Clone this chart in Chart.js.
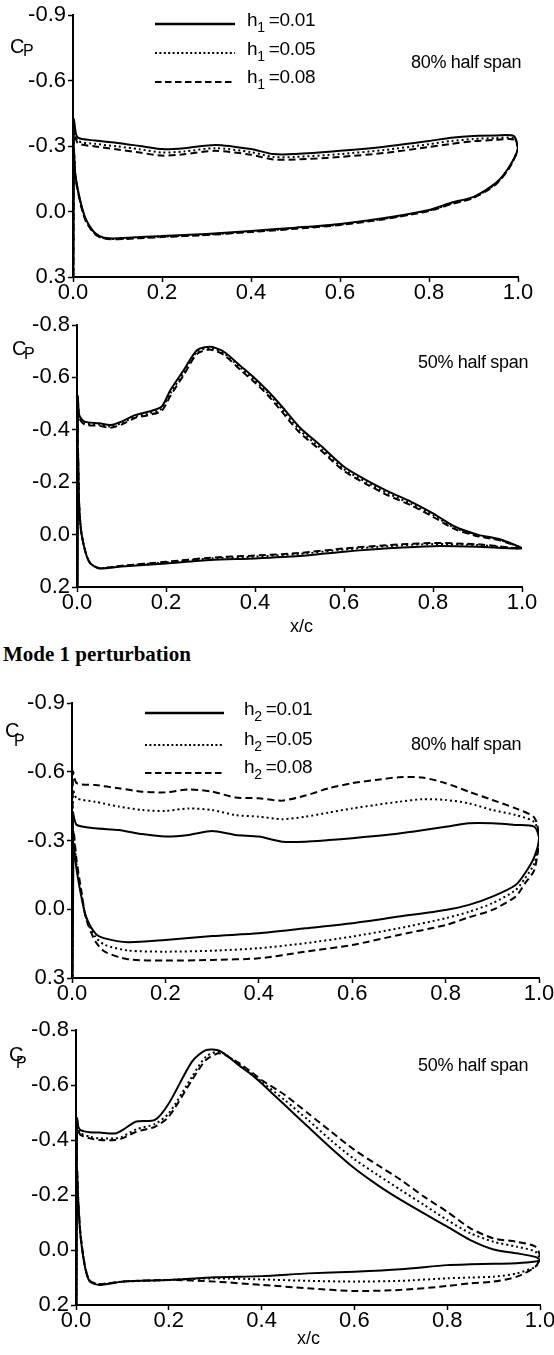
<!DOCTYPE html>
<html>
<head>
<meta charset="utf-8">
<script src="https://cdn.jsdelivr.net/npm/chart.js@4.4.1/dist/chart.umd.min.js"></script>
<style>
  html, body { margin: 0; padding: 0; background: #fff; overflow: hidden; }
  #page { position: relative; width: 554px; height: 1355px; overflow: hidden; color: #000;
          font-family: "Liberation Sans", Arial, Helvetica, sans-serif; }
  canvas { position: absolute; left: 0; }
  .t { position: absolute; white-space: nowrap; line-height: 1; }
  .lg { font-size: 19px; letter-spacing: -0.3px; }
  .lg span { font-size: 14px; position: relative; top: 6px; margin-right: 4px; }
  .span { font-size: 18px; letter-spacing: -0.3px; }
  .c { font-size: 20px; }
  .p { font-size: 16px; }
  .xc { font-size: 18px; }
  .mode { font-family: "Liberation Serif", "Times New Roman", serif; font-weight: bold; font-size: 21px; }
</style>
</head>
<body>
<div id="page">
  <canvas id="c1" width="600" height="300" style="top:0px"></canvas>
  <canvas id="c2" width="600" height="320" style="top:300px"></canvas>
  <canvas id="c3" width="600" height="330" style="top:680px"></canvas>
  <canvas id="c4" width="600" height="330" style="top:1010px"></canvas>

  <div class="t lg" style="left:247px;top:10px">h<span>1</span>=0.01</div>
  <div class="t lg" style="left:247px;top:39px">h<span>1</span>=0.05</div>
  <div class="t lg" style="left:247px;top:67px">h<span>1</span>=0.08</div>
  <div class="t span" style="left:411px;top:53px">80% half span</div>
  <div class="t c" style="left:10px;top:36px">C</div>
  <div class="t p" style="left:23px;top:43px">P</div>

  <div class="t span" style="left:418px;top:353px">50% half span</div>
  <div class="t c" style="left:12px;top:338px">C</div>
  <div class="t p" style="left:24px;top:346px">P</div>
  <div class="t xc" style="left:290px;top:617px">x/c</div>

  <div class="t mode" style="left:3px;top:644px">Mode 1 perturbation</div>

  <div class="t lg" style="left:244px;top:699px">h<span>2</span>=0.01</div>
  <div class="t lg" style="left:244px;top:729px">h<span>2</span>=0.05</div>
  <div class="t lg" style="left:244px;top:757px">h<span>2</span>=0.08</div>
  <div class="t span" style="left:411px;top:735px">80% half span</div>
  <div class="t c" style="left:5px;top:720px">C</div>
  <div class="t p" style="left:14px;top:733px">P</div>

  <div class="t span" style="left:418px;top:1056px">50% half span</div>
  <div class="t c" style="left:9px;top:1044px">C</div>
  <div class="t p" style="left:16px;top:1055px">P</div>
  <div class="t xc" style="left:297px;top:1329px">x/c</div>
</div>
<script>
// leading-edge stagnation value, the curves close through it at x/c = 0
const stagnationCp = 1.0

// mode 1 (h1), 80% half span
const a80UpX = [0.002, 0.01, 0.05, 0.1, 0.15, 0.2, 0.25, 0.32, 0.4, 0.45, 0.5, 0.6, 0.7, 0.8, 0.85, 0.9, 0.95, 0.99, 1.0]
const a80Up01 = [-0.42, -0.34, -0.325, -0.314, -0.3, -0.286, -0.29, -0.305, -0.286, -0.263, -0.263, -0.278, -0.297, -0.323, -0.338, -0.346, -0.348, -0.346, -0.29]
const a80Up05 = [-0.41, -0.325, -0.31, -0.298, -0.285, -0.27, -0.275, -0.29, -0.272, -0.25, -0.25, -0.263, -0.282, -0.308, -0.323, -0.332, -0.336, -0.336, -0.29]
const a80Up08 = [-0.4, -0.315, -0.298, -0.284, -0.27, -0.256, -0.262, -0.278, -0.26, -0.238, -0.238, -0.25, -0.268, -0.295, -0.31, -0.322, -0.328, -0.33, -0.29]
const a80LoX = [0.98, 0.95, 0.9, 0.85, 0.8, 0.7, 0.6, 0.5, 0.4, 0.3, 0.2, 0.1, 0.07, 0.05, 0.03, 0.02, 0.01, 0.005, 0.002]
const a80Lo01 = [-0.204, -0.13, -0.067, -0.04, -0.007, 0.03, 0.057, 0.074, 0.089, 0.103, 0.112, 0.123, 0.12, 0.1, 0.04, -0.02, -0.11, -0.176, -0.28]
const a80Lo05 = [-0.2, -0.127, -0.064, -0.036, -0.004, 0.033, 0.06, 0.077, 0.092, 0.106, 0.115, 0.126, 0.123, 0.103, 0.045, -0.015, -0.105, -0.17, -0.275]
const a80Lo08 = [-0.198, -0.124, -0.062, -0.034, -0.002, 0.035, 0.062, 0.079, 0.094, 0.108, 0.117, 0.127, 0.124, 0.105, 0.05, -0.01, -0.1, -0.165, -0.27]

// mode 1 (h1), 50% half span
const a50UpX = [0.002, 0.005, 0.017, 0.05, 0.075, 0.1, 0.13, 0.16, 0.19, 0.21, 0.24, 0.27, 0.3, 0.33, 0.37, 0.4, 0.43, 0.46, 0.5, 0.55, 0.6, 0.65, 0.7, 0.75, 0.8, 0.85, 0.9, 0.95, 1.0]
const a50Up01 = [-0.526, -0.456, -0.431, -0.425, -0.418, -0.431, -0.456, -0.469, -0.488, -0.552, -0.628, -0.705, -0.717, -0.698, -0.64, -0.596, -0.546, -0.49, -0.41, -0.336, -0.259, -0.208, -0.164, -0.126, -0.081, -0.03, 0.0, 0.018, 0.052]
const a50Up05 = [-0.52, -0.45, -0.425, -0.42, -0.413, -0.425, -0.45, -0.462, -0.48, -0.54, -0.618, -0.698, -0.712, -0.692, -0.632, -0.588, -0.538, -0.48, -0.4, -0.326, -0.25, -0.2, -0.156, -0.118, -0.074, -0.025, 0.003, 0.02, 0.052]
const a50Up08 = [-0.515, -0.445, -0.42, -0.415, -0.408, -0.42, -0.445, -0.456, -0.472, -0.53, -0.61, -0.69, -0.706, -0.686, -0.624, -0.58, -0.53, -0.47, -0.39, -0.318, -0.243, -0.193, -0.149, -0.112, -0.068, -0.02, 0.006, 0.022, 0.052]
const a50LoX = [0.9, 0.8, 0.7, 0.6, 0.5, 0.4, 0.3, 0.2, 0.1, 0.05, 0.03, 0.02, 0.01, 0.005, 0.002]
const a50Lo01 = [0.046, 0.044, 0.052, 0.065, 0.082, 0.091, 0.097, 0.11, 0.122, 0.129, 0.11, 0.072, -0.005, -0.106, -0.323]
const a50Lo05 = [0.04, 0.036, 0.044, 0.057, 0.074, 0.084, 0.091, 0.106, 0.12, 0.128, 0.11, 0.072, -0.005, -0.106, -0.323]
const a50Lo08 = [0.037, 0.032, 0.04, 0.053, 0.07, 0.08, 0.088, 0.104, 0.119, 0.128, 0.11, 0.072, -0.005, -0.106, -0.323]

// mode 2 (h2), 80% half span
const b80UpX = [0.002, 0.01, 0.05, 0.1, 0.15, 0.2, 0.25, 0.3, 0.35, 0.4, 0.45, 0.5, 0.55, 0.6, 0.65, 0.7, 0.75, 0.8, 0.85, 0.9, 0.95, 0.99, 1.0]
const b80Up01 = [-0.42, -0.368, -0.353, -0.346, -0.328, -0.317, -0.324, -0.341, -0.324, -0.317, -0.295, -0.295, -0.302, -0.31, -0.32, -0.331, -0.345, -0.36, -0.375, -0.375, -0.368, -0.36, -0.31]
const b80Up05 = [-0.52, -0.484, -0.469, -0.448, -0.433, -0.429, -0.44, -0.433, -0.411, -0.404, -0.393, -0.404, -0.422, -0.44, -0.455, -0.469, -0.48, -0.477, -0.462, -0.433, -0.411, -0.38, -0.31]
const b80Up08 = [-0.6, -0.55, -0.542, -0.528, -0.513, -0.51, -0.523, -0.513, -0.488, -0.484, -0.474, -0.496, -0.528, -0.55, -0.564, -0.576, -0.575, -0.55, -0.513, -0.477, -0.44, -0.4, -0.31]
const b80LoX = [0.99, 0.97, 0.95, 0.9, 0.85, 0.8, 0.7, 0.6, 0.5, 0.4, 0.3, 0.2, 0.12, 0.07, 0.05, 0.03, 0.02, 0.01, 0.003]
const b80Lo01 = [-0.229, -0.157, -0.106, -0.055, -0.019, 0.003, 0.032, 0.061, 0.083, 0.105, 0.117, 0.134, 0.144, 0.127, 0.105, 0.032, -0.055, -0.171, -0.273]
const b80Lo05 = [-0.2, -0.135, -0.084, -0.026, 0.011, 0.039, 0.083, 0.119, 0.148, 0.17, 0.181, 0.185, 0.18, 0.155, 0.12, 0.035, -0.07, -0.19, -0.31]
const b80Lo08 = [-0.171, -0.113, -0.055, 0.003, 0.035, 0.069, 0.112, 0.156, 0.185, 0.214, 0.221, 0.224, 0.218, 0.185, 0.14, 0.04, -0.08, -0.21, -0.34]

// mode 2 (h2), 50% half span
const b50UpX = [0.002, 0.005, 0.01, 0.03, 0.05, 0.085, 0.1, 0.13, 0.17, 0.2, 0.25, 0.28, 0.31, 0.35, 0.38, 0.4, 0.45, 0.5, 0.55, 0.6, 0.65, 0.7, 0.75, 0.8, 0.85, 0.9, 0.95, 0.99, 1.0]
const b50Up01 = [-0.479, -0.448, -0.436, -0.428, -0.427, -0.424, -0.436, -0.467, -0.473, -0.533, -0.685, -0.727, -0.724, -0.673, -0.636, -0.606, -0.527, -0.448, -0.37, -0.297, -0.236, -0.182, -0.133, -0.085, -0.036, -0.002, 0.012, 0.025, 0.036]
const b50Up05 = [-0.48, -0.44, -0.424, -0.412, -0.406, -0.406, -0.412, -0.439, -0.458, -0.497, -0.63, -0.703, -0.721, -0.677, -0.64, -0.612, -0.545, -0.473, -0.398, -0.33, -0.273, -0.218, -0.164, -0.109, -0.061, -0.03, -0.012, 0.006, 0.036]
const b50Up08 = [-0.473, -0.435, -0.418, -0.406, -0.4, -0.4, -0.406, -0.43, -0.448, -0.485, -0.618, -0.691, -0.715, -0.681, -0.645, -0.618, -0.564, -0.497, -0.43, -0.364, -0.309, -0.255, -0.194, -0.139, -0.079, -0.042, -0.03, -0.012, 0.024]
const b50LoX = [0.99, 0.95, 0.9, 0.85, 0.8, 0.7, 0.6, 0.5, 0.4, 0.3, 0.2, 0.1, 0.05, 0.03, 0.02, 0.01, 0.005, 0.002]
const b50Lo01 = [0.042, 0.048, 0.05, 0.052, 0.055, 0.07, 0.079, 0.085, 0.095, 0.099, 0.109, 0.115, 0.127, 0.115, 0.067, -0.048, -0.17, -0.291]
const b50Lo05 = [0.061, 0.085, 0.097, 0.1, 0.103, 0.112, 0.115, 0.112, 0.107, 0.103, 0.109, 0.115, 0.124, 0.113, 0.065, -0.05, -0.172, -0.293]
const b50Lo08 = [0.061, 0.097, 0.115, 0.121, 0.131, 0.145, 0.149, 0.139, 0.127, 0.115, 0.109, 0.115, 0.124, 0.112, 0.064, -0.052, -0.174, -0.295]

const xTicks = [0, 0.2, 0.4, 0.6, 0.8, 1.0]

const lineStyles = [
    {borderDash: [], borderWidth: 2},
    {borderDash: [2, 3], borderWidth: 2},
    {borderDash: [7, 4], borderWidth: 2},
]
const legendStyles = [
    {dash: [], width: 2.5},
    {dash: [2, 2.4], width: 2},
    {dash: [6.5, 3.5], width: 2.2},
]

const loop = (upX, up, loX, lo) => [
    {x: 0, y: stagnationCp},
    ...upX.map((x, i) => ({x, y: up[i]})),
    ...loX.map((x, i) => ({x, y: lo[i]})),
    {x: 0, y: stagnationCp},
]

const legendLines = {
    id: 'legendLines',
    afterDraw(chart, args, opts) {
        if (!opts.rows) return
        const {ctx} = chart
        ctx.save()
        ctx.strokeStyle = '#000'
        ctx.lineCap = 'butt'
        opts.rows.forEach((y, i) => {
            ctx.lineWidth = legendStyles[i].width
            ctx.setLineDash(legendStyles[i].dash)
            ctx.beginPath()
            ctx.moveTo(opts.x0, y)
            ctx.lineTo(opts.x1, y)
            ctx.stroke()
        })
        ctx.restore()
    },
}

const fmt = v => Math.abs(v) < 1e-9 ? '0.0' : Number(v).toFixed(1)
const tickFont = {family: '"Liberation Sans", Arial, sans-serif', size: 22, lineHeight: 1}

// canvases are 600 wide so the last x label can run past the page edge like the original
function makePanel(id, canvasTop, canvasHeight, area, yMin, yMax, yStep, series, legend) {
    return new Chart(document.getElementById(id), {
        type: 'scatter',
        data: {
            datasets: series.map((pts, i) => ({
                data: pts,
                showLine: true,
                borderColor: '#000',
                backgroundColor: '#000',
                pointRadius: 0,
                tension: 0.25,
                fill: false,
                ...lineStyles[i],
            })),
        },
        options: {
            responsive: false,
            animation: false,
            devicePixelRatio: 1,
            layout: {padding: {top: area.top - canvasTop, right: 600 - area.right, left: 0, bottom: 0}},
            plugins: {
                legend: {display: false},
                tooltip: {enabled: false},
                legendLines: legend || {},
            },
            scales: {
                x: {
                    type: 'linear',
                    min: 0,
                    max: 1,
                    afterBuildTicks: axis => { axis.ticks = xTicks.map(value => ({value})) },
                    afterFit: axis => { axis.height = canvasTop + canvasHeight - area.bottom },
                    ticks: {callback: fmt, color: '#000', font: tickFont, padding: 0, maxRotation: 0},
                    grid: {drawOnChartArea: false, drawTicks: true, tickLength: 5, tickColor: '#000', tickWidth: 1.5},
                    border: {display: true, color: '#000', width: 2},
                },
                y: {
                    type: 'linear',
                    reverse: true,
                    min: yMin,
                    max: yMax,
                    ticks: {stepSize: yStep, callback: fmt, color: '#000', font: tickFont, padding: 2},
                    afterFit: axis => { axis.width = area.left },
                    grid: {drawOnChartArea: false, drawTicks: true, tickLength: 5, tickColor: '#000', tickWidth: 1.5},
                    border: {display: true, color: '#000', width: 2},
                },
            },
        },
        plugins: [legendLines],
    })
}

makePanel('c1', 0, 300, {left: 73, right: 518, top: 15, bottom: 277}, -0.9, 0.3, 0.3, [
    loop(a80UpX, a80Up01, a80LoX, a80Lo01),
    loop(a80UpX, a80Up05, a80LoX, a80Lo05),
    loop(a80UpX, a80Up08, a80LoX, a80Lo08),
], {x0: 155, x1: 235, rows: [24, 53, 82]})

makePanel('c2', 300, 320, {left: 77, right: 522, top: 325, bottom: 587}, -0.8, 0.2, 0.2, [
    loop(a50UpX, a50Up01, a50LoX, a50Lo01),
    loop(a50UpX, a50Up05, a50LoX, a50Lo05),
    loop(a50UpX, a50Up08, a50LoX, a50Lo08),
])

makePanel('c3', 680, 330, {left: 72, right: 539, top: 703, bottom: 978}, -0.9, 0.3, 0.3, [
    loop(b80UpX, b80Up01, b80LoX, b80Lo01),
    loop(b80UpX, b80Up05, b80LoX, b80Lo05),
    loop(b80UpX, b80Up08, b80LoX, b80Lo08),
], {x0: 145, x1: 224, rows: [33, 65, 93]})

makePanel('c4', 1010, 330, {left: 76, right: 540, top: 1030, bottom: 1305}, -0.8, 0.2, 0.2, [
    loop(b50UpX, b50Up01, b50LoX, b50Lo01),
    loop(b50UpX, b50Up05, b50LoX, b50Lo05),
    loop(b50UpX, b50Up08, b50LoX, b50Lo08),
])
</script>
</body>
</html>
